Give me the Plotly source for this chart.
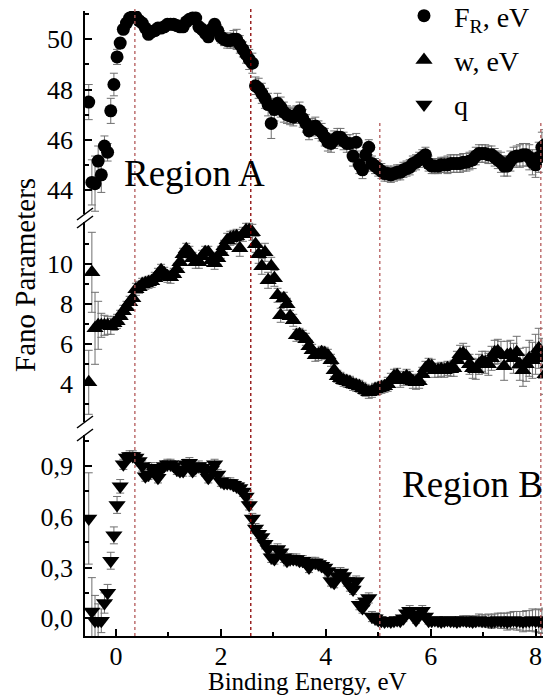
import plotly.graph_objects as go

# ---------------- data ----------------
energy = [-0.52, -0.46, -0.40, -0.34, -0.28, -0.22, -0.16, -0.10, -0.04, 0.02,
          0.08, 0.14, 0.20, 0.26, 0.32, 0.38, 0.44, 0.50, 0.56, 0.62,
          0.68, 0.74, 0.80, 0.86, 0.92, 0.98, 1.04, 1.10, 1.16, 1.22,
          1.28, 1.34, 1.40, 1.46, 1.52, 1.58, 1.64, 1.70, 1.76, 1.82,
          1.88, 1.94, 2.00, 2.06, 2.12, 2.18, 2.24, 2.30, 2.36, 2.42,
          2.48, 2.54, 2.60, 2.66, 2.72, 2.78, 2.84, 2.90, 2.96, 3.02,
          3.08, 3.14, 3.20, 3.26, 3.32, 3.38, 3.44, 3.50, 3.56, 3.62,
          3.68, 3.74, 3.80, 3.86, 3.92, 3.98, 4.04, 4.10, 4.16, 4.22,
          4.28, 4.34, 4.40, 4.46, 4.52, 4.58, 4.64, 4.70, 4.76, 4.82,
          4.88, 4.94, 5.00, 5.06, 5.12, 5.18, 5.24, 5.30, 5.36, 5.42,
          5.48, 5.54, 5.60, 5.66, 5.72, 5.78, 5.84, 5.90, 5.96, 6.02,
          6.08, 6.14, 6.20, 6.26, 6.32, 6.38, 6.44, 6.50, 6.56, 6.62,
          6.68, 6.74, 6.80, 6.86, 6.92, 6.98, 7.04, 7.10, 7.16, 7.22,
          7.28, 7.34, 7.40, 7.46, 7.52, 7.58, 7.64, 7.70, 7.76, 7.82,
          7.88, 7.94, 8.00, 8.06, 8.12, 8.18, 8.24, 8.30]

F_R = [47.5, 44.3, 44.25, 45.15, 44.6, 45.75, 45.5, 47.15, 48.2, 49.3,
       49.85, 50.4, 50.65, 50.85, 50.9, 50.9, 50.75, 50.65, 50.45, 50.2,
       50.3, 50.35, 50.45, 50.45, 50.5, 50.6, 50.6, 50.6, 50.55, 50.5,
       50.5, 50.7, 50.8, 50.85, 50.85, 50.5, 50.4, 50.25, 50.1, 50.4,
       50.6, 50.35, 50.1, 50.0, 49.95, 49.95, 50.0, 50.0, 49.8, 49.6,
       49.4, 49.2, 49.05, 48.15, 48.05, 47.85, 47.65, 47.4, 46.65, 47.2,
       47.45, 47.3, 47.1, 47.0, 46.95, 46.9, 47.0, 47.15, 46.85, 46.65,
       46.35, 46.5, 46.55, 46.4, 46.3, 46.1, 45.9, 45.85, 46.0, 46.1,
       46.1, 45.95, 45.85, 45.85, 45.35, 45.9, 45.0, 44.8, 45.4, 45.7,
       45.05, 44.95, 44.85, 44.75, 44.65, 44.65, 44.6, 44.65, 44.7, 44.7,
       44.8, 44.85, 44.9, 45.05, 45.1, 45.2, 45.3, 45.4, 45.05, 44.95,
       44.95, 44.95, 45.0, 45.0, 45.0, 45.05, 45.05, 45.05, 45.05, 45.1,
       45.1, 45.15, 45.2, 45.35, 45.45, 45.45, 45.45, 45.4, 45.4, 45.3,
       45.2, 45.1, 44.95, 44.95, 45.15, 45.3, 45.35, 45.35, 45.4, 45.4,
       45.3, 45.1, 45.0, 45.3, 45.7, 45.8, 45.9, 46.0]

F_R_err = [0.7, 0.9, 1.1, 0.6, 0.7, 0.4, 0.35, 0.5, 0.45, 0.3,
           0.2, 0.15, 0.12, 0.12, 0.12, 0.12, 0.12, 0.12, 0.15, 0.15,
           0.15, 0.15, 0.15, 0.15, 0.15, 0.15, 0.15, 0.15, 0.15, 0.15,
           0.15, 0.15, 0.15, 0.15, 0.2, 0.2, 0.2, 0.2, 0.2, 0.2,
           0.2, 0.25, 0.25, 0.25, 0.3, 0.3, 0.35, 0.4, 0.35, 0.3,
           0.35, 0.4, 0.4, 0.35, 0.4, 0.4, 0.4, 0.45, 0.6, 0.45,
           0.4, 0.4, 0.4, 0.35, 0.35, 0.35, 0.35, 0.35, 0.35, 0.35,
           0.35, 0.35, 0.35, 0.35, 0.35, 0.35, 0.35, 0.35, 0.35, 0.35,
           0.35, 0.35, 0.35, 0.35, 0.4, 0.35, 0.35, 0.35, 0.3, 0.3,
           0.3, 0.3, 0.3, 0.3, 0.3, 0.3, 0.3, 0.3, 0.3, 0.3,
           0.3, 0.3, 0.3, 0.3, 0.3, 0.3, 0.3, 0.3, 0.3, 0.3,
           0.3, 0.3, 0.3, 0.3, 0.35, 0.35, 0.35, 0.35, 0.35, 0.35,
           0.35, 0.35, 0.35, 0.35, 0.35, 0.35, 0.35, 0.35, 0.35, 0.35,
           0.35, 0.4, 0.4, 0.4, 0.4, 0.4, 0.4, 0.45, 0.45, 0.45,
           0.5, 0.5, 0.5, 0.6, 0.6, 0.6, 0.6, 0.6]

w = [4.1, 9.6, 6.8, 6.95, 6.95, 6.95, 6.95, 6.9, 7.05, 7.15,
     7.4, 7.65, 7.85, 8.1, 8.3, 8.75, 8.85, 9.0, 9.05, 9.1,
     9.15, 9.3, 9.5, 9.7, 9.55, 9.4, 9.35, 9.5, 9.75, 10.1,
     10.5, 10.75, 10.6, 10.3, 10.1, 10.1, 10.4, 10.6, 10.6, 10.2,
     10.05, 10.3, 10.6, 10.9, 11.2, 11.3, 11.35, 11.4, 10.8, 11.5,
     11.7, 11.7, 11.6, 11.0, 10.5, 9.9, 10.6, 9.2, 9.9, 9.3,
     8.45, 7.45, 8.3, 8.0, 7.4, 7.2, 6.45, 6.5, 6.4, 6.25,
     5.9, 5.7, 5.45, 5.5, 5.6, 5.55, 5.45, 5.2, 4.7, 4.4,
     4.3, 4.2, 4.15, 4.1, 4.0, 3.95, 3.9, 3.8, 3.7, 3.6,
     3.65, 3.75, 3.8, 3.85, 3.9, 4.0, 4.2, 4.4, 4.45, 4.2,
     4.3, 4.4, 4.3, 4.15, 4.1, 4.15, 4.5, 4.8, 4.95, 4.9,
     4.7, 4.7, 4.75, 4.7, 4.8, 4.75, 4.8, 5.2, 5.5, 5.55,
     5.4, 5.0, 4.8, 4.75, 5.0, 5.15, 5.1, 5.0, 5.3, 5.6,
     5.65, 5.5, 4.9, 5.45, 5.5, 5.3, 5.6, 5.0, 4.7, 5.0,
     5.3, 5.2, 5.5, 5.8, 5.3, 4.5, 5.0, 5.45]

w_err = [1.6, 2.0, 1.8, 1.2, 0.6, 0.5, 0.45, 0.4, 0.35, 0.35,
         0.3, 0.3, 0.3, 0.3, 0.3, 0.3, 0.3, 0.3, 0.3, 0.3,
         0.3, 0.3, 0.3, 0.3, 0.3, 0.3, 0.3, 0.3, 0.3, 0.3,
         0.3, 0.3, 0.3, 0.3, 0.3, 0.3, 0.3, 0.3, 0.3, 0.3,
         0.3, 0.3, 0.3, 0.3, 0.35, 0.35, 0.35, 0.35, 0.4, 0.35,
         0.35, 0.35, 0.4, 0.4, 0.45, 0.4, 0.45, 0.4, 0.45, 0.4,
         0.35, 0.35, 0.3, 0.3, 0.3, 0.3, 0.3, 0.3, 0.3, 0.3,
         0.3, 0.3, 0.3, 0.3, 0.3, 0.3, 0.3, 0.3, 0.3, 0.3,
         0.3, 0.3, 0.3, 0.3, 0.3, 0.3, 0.3, 0.3, 0.3, 0.3,
         0.3, 0.3, 0.3, 0.3, 0.3, 0.35, 0.35, 0.35, 0.35, 0.35,
         0.35, 0.35, 0.35, 0.35, 0.35, 0.35, 0.35, 0.35, 0.35, 0.35,
         0.35, 0.35, 0.35, 0.35, 0.35, 0.35, 0.4, 0.45, 0.45, 0.5,
         0.5, 0.5, 0.5, 0.5, 0.5, 0.5, 0.55, 0.55, 0.6, 0.6,
         0.6, 0.65, 0.7, 0.7, 0.7, 0.75, 0.8, 0.8, 0.8, 0.85,
         0.9, 0.9, 1.0, 1.0, 1.0, 1.0, 1.0, 1.0]

q = [0.59, 0.04, -0.015, -0.015, -0.015, 0.09, 0.15, 0.34, 0.49, 0.67,
     0.78, 0.91, 0.95, 0.96, 0.96, 0.95, 0.93, 0.9, 0.84, 0.85,
     0.89, 0.86, 0.83, 0.88, 0.9, 0.91, 0.91, 0.9, 0.88, 0.87,
     0.87, 0.91, 0.92, 0.87, 0.89, 0.9, 0.89, 0.87, 0.83, 0.88,
     0.91, 0.85, 0.81, 0.8, 0.8, 0.8, 0.79, 0.78, 0.77, 0.75,
     0.72, 0.67, 0.59, 0.53, 0.5, 0.48, 0.44, 0.41, 0.36, 0.35,
     0.41, 0.39, 0.36, 0.34, 0.35, 0.35, 0.35, 0.34, 0.34, 0.33,
     0.3, 0.33, 0.33, 0.32, 0.31, 0.3, 0.28, 0.22, 0.21, 0.25,
     0.27, 0.25, 0.22, 0.19, 0.17, 0.22, 0.08, 0.06, 0.1, 0.12,
     0.01, 0.0, -0.01, -0.015, -0.02, -0.015, -0.02, -0.015, -0.01, -0.015,
     0.0, 0.03, 0.045, 0.02, -0.01, 0.02, 0.045, 0.01, -0.015, -0.015,
     -0.01, -0.015, -0.02, -0.015, -0.01, -0.015, -0.015, -0.02, -0.015, -0.01,
     -0.015, -0.015, -0.02, -0.015, -0.01, -0.015, -0.015, -0.015, -0.02, -0.015,
     -0.01, -0.015, -0.015, -0.02, -0.015, -0.01, -0.015, -0.015, -0.02, -0.015,
     -0.015, -0.01, -0.015, -0.015, -0.02, -0.015, -0.01, -0.015]

q_err = [0.27, 0.2, 0.15, 0.1, 0.07, 0.06, 0.05, 0.05, 0.05, 0.05,
         0.04, 0.03, 0.03, 0.03, 0.03, 0.03, 0.03, 0.03, 0.03, 0.03,
         0.03, 0.03, 0.03, 0.03, 0.03, 0.03, 0.03, 0.03, 0.03, 0.03,
         0.03, 0.03, 0.03, 0.03, 0.03, 0.03, 0.03, 0.03, 0.03, 0.03,
         0.03, 0.03, 0.03, 0.03, 0.03, 0.03, 0.03, 0.03, 0.03, 0.03,
         0.03, 0.03, 0.03, 0.03, 0.03, 0.03, 0.03, 0.03, 0.03, 0.03,
         0.03, 0.03, 0.03, 0.03, 0.03, 0.03, 0.03, 0.03, 0.03, 0.03,
         0.03, 0.03, 0.03, 0.03, 0.03, 0.03, 0.03, 0.03, 0.03, 0.03,
         0.03, 0.03, 0.03, 0.03, 0.03, 0.03, 0.03, 0.03, 0.03, 0.03,
         0.03, 0.03, 0.03, 0.02, 0.02, 0.02, 0.02, 0.02, 0.02, 0.02,
         0.02, 0.02, 0.03, 0.02, 0.02, 0.02, 0.03, 0.02, 0.02, 0.02,
         0.02, 0.02, 0.02, 0.02, 0.02, 0.02, 0.025, 0.025, 0.025, 0.025,
         0.03, 0.03, 0.03, 0.03, 0.035, 0.035, 0.035, 0.04, 0.04, 0.04,
         0.04, 0.045, 0.045, 0.05, 0.05, 0.05, 0.055, 0.055, 0.06, 0.06,
         0.06, 0.065, 0.065, 0.07, 0.07, 0.075, 0.075, 0.08]

region_bounds = [0.36, 2.57, 5.03, 8.10]

F_ticks = [44, 46, 48, 50]
F_minor = [45, 47, 49, 51]
w_ticks = [4, 6, 8, 10]
w_minor = [3, 5, 7, 9, 11]
q_ticks = [0.0, 0.3, 0.6, 0.9]
q_ticktext = ["0,0", "0,3", "0,6", "0,9"]
q_minor = [0.15, 0.45, 0.75, 1.05]
x_ticks = [0, 2, 4, 6, 8]
x_minor = [1, 3, 5, 7]

# ---------------- figure ----------------
FONT = "Liberation Serif, Times New Roman, serif"
OFF = 8                      # page body margin of the html page
W, H = 551 - OFF, 696 - OFF
ML, MT = 85 - OFF, 11 - OFF
PLOT_BOTTOM = 636 - OFF
MB = H - PLOT_BOTTOM
MR = 0
PW, PH = W - ML - MR, H - MT - MB


def py2paper(py_screen):
    return (PLOT_BOTTOM - (py_screen - OFF)) / PH


def px2paper(px_screen):
    return (px_screen - OFF - ML) / PW


err_style = dict(type="data", color="#707070", thickness=1, width=4)

fig = go.Figure()
fig.add_trace(go.Scatter(
    x=energy, y=F_R, mode="markers", name="F<sub>R</sub>, eV",
    marker=dict(symbol="circle", size=13, color="black"),
    error_y=dict(array=F_R_err, **err_style),
    xaxis="x", yaxis="y3", legendgroup="g1"))
fig.add_trace(go.Scatter(
    x=energy, y=w, mode="markers", name="w, eV",
    marker=dict(symbol="triangle-up", size=15, color="black"),
    error_y=dict(array=w_err, **err_style),
    xaxis="x", yaxis="y2", legendgroup="g2"))
fig.add_trace(go.Scatter(
    x=energy, y=q, mode="markers", name="q",
    marker=dict(symbol="triangle-down", size=15, color="black"),
    error_y=dict(array=q_err, **err_style),
    xaxis="x", yaxis="y", legendgroup="g3"))

axis_common = dict(showgrid=False, zeroline=False, showline=True, linecolor="black",
                   linewidth=1.5, ticks="inside", ticklen=7, tickwidth=1.5,
                   tickcolor="black", tickfont=dict(family=FONT, size=26, color="black"))
minor_common = dict(ticks="inside", ticklen=4, tickwidth=1.5, tickcolor="black", showgrid=False)

fig.update_layout(
    width=W, height=H,
    margin=dict(l=ML, r=MR, t=MT, b=MB, autoexpand=False),
    paper_bgcolor="white", plot_bgcolor="white",
    font=dict(family=FONT, color="black"),
    xaxis=dict(range=[-0.591, 8.294], anchor="y", tickmode="array", tickvals=x_ticks,
               ticklabelstandoff=-4,
               minor=dict(tickmode="array", tickvals=x_minor, **minor_common),
               **axis_common),
    yaxis=dict(domain=[0, py2paper(435)], range=[-0.105, 0.9 + (466 - 435) / 169.0],
               anchor="x", tickmode="array", tickvals=q_ticks, ticktext=q_ticktext,
               ticklabelstandoff=5,
               minor=dict(tickmode="array", tickvals=q_minor, **minor_common),
               **axis_common),
    yaxis2=dict(domain=[py2paper(422), py2paper(222)], range=[2.115, 12.115],
                anchor="x", tickmode="array", tickvals=w_ticks, ticklabelstandoff=5,
                minor=dict(tickmode="array", tickvals=w_minor, **minor_common),
                **axis_common),
    yaxis3=dict(domain=[py2paper(214), 1.0], range=[43.04, 51.13],
                anchor="x", tickmode="array", tickvals=F_ticks, ticklabelstandoff=5,
                minor=dict(tickmode="array", tickvals=F_minor, **minor_common),
                **axis_common),
    showlegend=True,
    legend=dict(x=px2paper(394), y=py2paper(-9), xanchor="left", yanchor="top",
                bgcolor="rgba(0,0,0,0)", borderwidth=0, itemwidth=50,
                tracegroupgap=5, font=dict(family=FONT, size=28, color="black")),
)

shapes = []
# region boundaries (vertical dashed lines)
line_tops = [py2paper(5), py2paper(5), py2paper(122), py2paper(122)]
line_cols = ["#b45a5a", "#8b0000", "#b45a5a", "#b45a5a"]
for xv, yt, col in zip(region_bounds, line_tops, line_cols):
    shapes.append(dict(type="line", xref="x", yref="paper", x0=xv, x1=xv, y0=0, y1=yt,
                       line=dict(color=col, width=1.3, dash="3px,3px"), layer="above"))
# axis break marks
for pyb in [214, 222, 422, 435]:
    shapes.append(dict(type="line", xref="paper", yref="paper",
                       x0=px2paper(77), x1=px2paper(93),
                       y0=py2paper(pyb + 6), y1=py2paper(pyb - 6),
                       line=dict(color="black", width=1.5)))
fig.update_layout(shapes=shapes)

annotations = [
    dict(text="Region A", x=px2paper(194), y=py2paper(173), xref="paper", yref="paper",
         showarrow=False, xanchor="center", yanchor="middle",
         font=dict(family=FONT, size=37, color="black")),
    dict(text="Region B", x=px2paper(472.5), y=py2paper(484), xref="paper", yref="paper",
         showarrow=False, xanchor="center", yanchor="middle",
         font=dict(family=FONT, size=37, color="black")),
    dict(text="Fano Parameters", x=px2paper(25), y=py2paper(275), xref="paper", yref="paper",
         showarrow=False, xanchor="center", yanchor="middle", textangle=-90,
         font=dict(family=FONT, size=29, color="black")),
    dict(text="Binding Energy, eV", x=px2paper(307.5), y=py2paper(682), xref="paper",
         yref="paper", showarrow=False, xanchor="center", yanchor="middle",
         font=dict(family=FONT, size=25, color="black")),
]
fig.update_layout(annotations=annotations)

fig.write_html("out.html")
